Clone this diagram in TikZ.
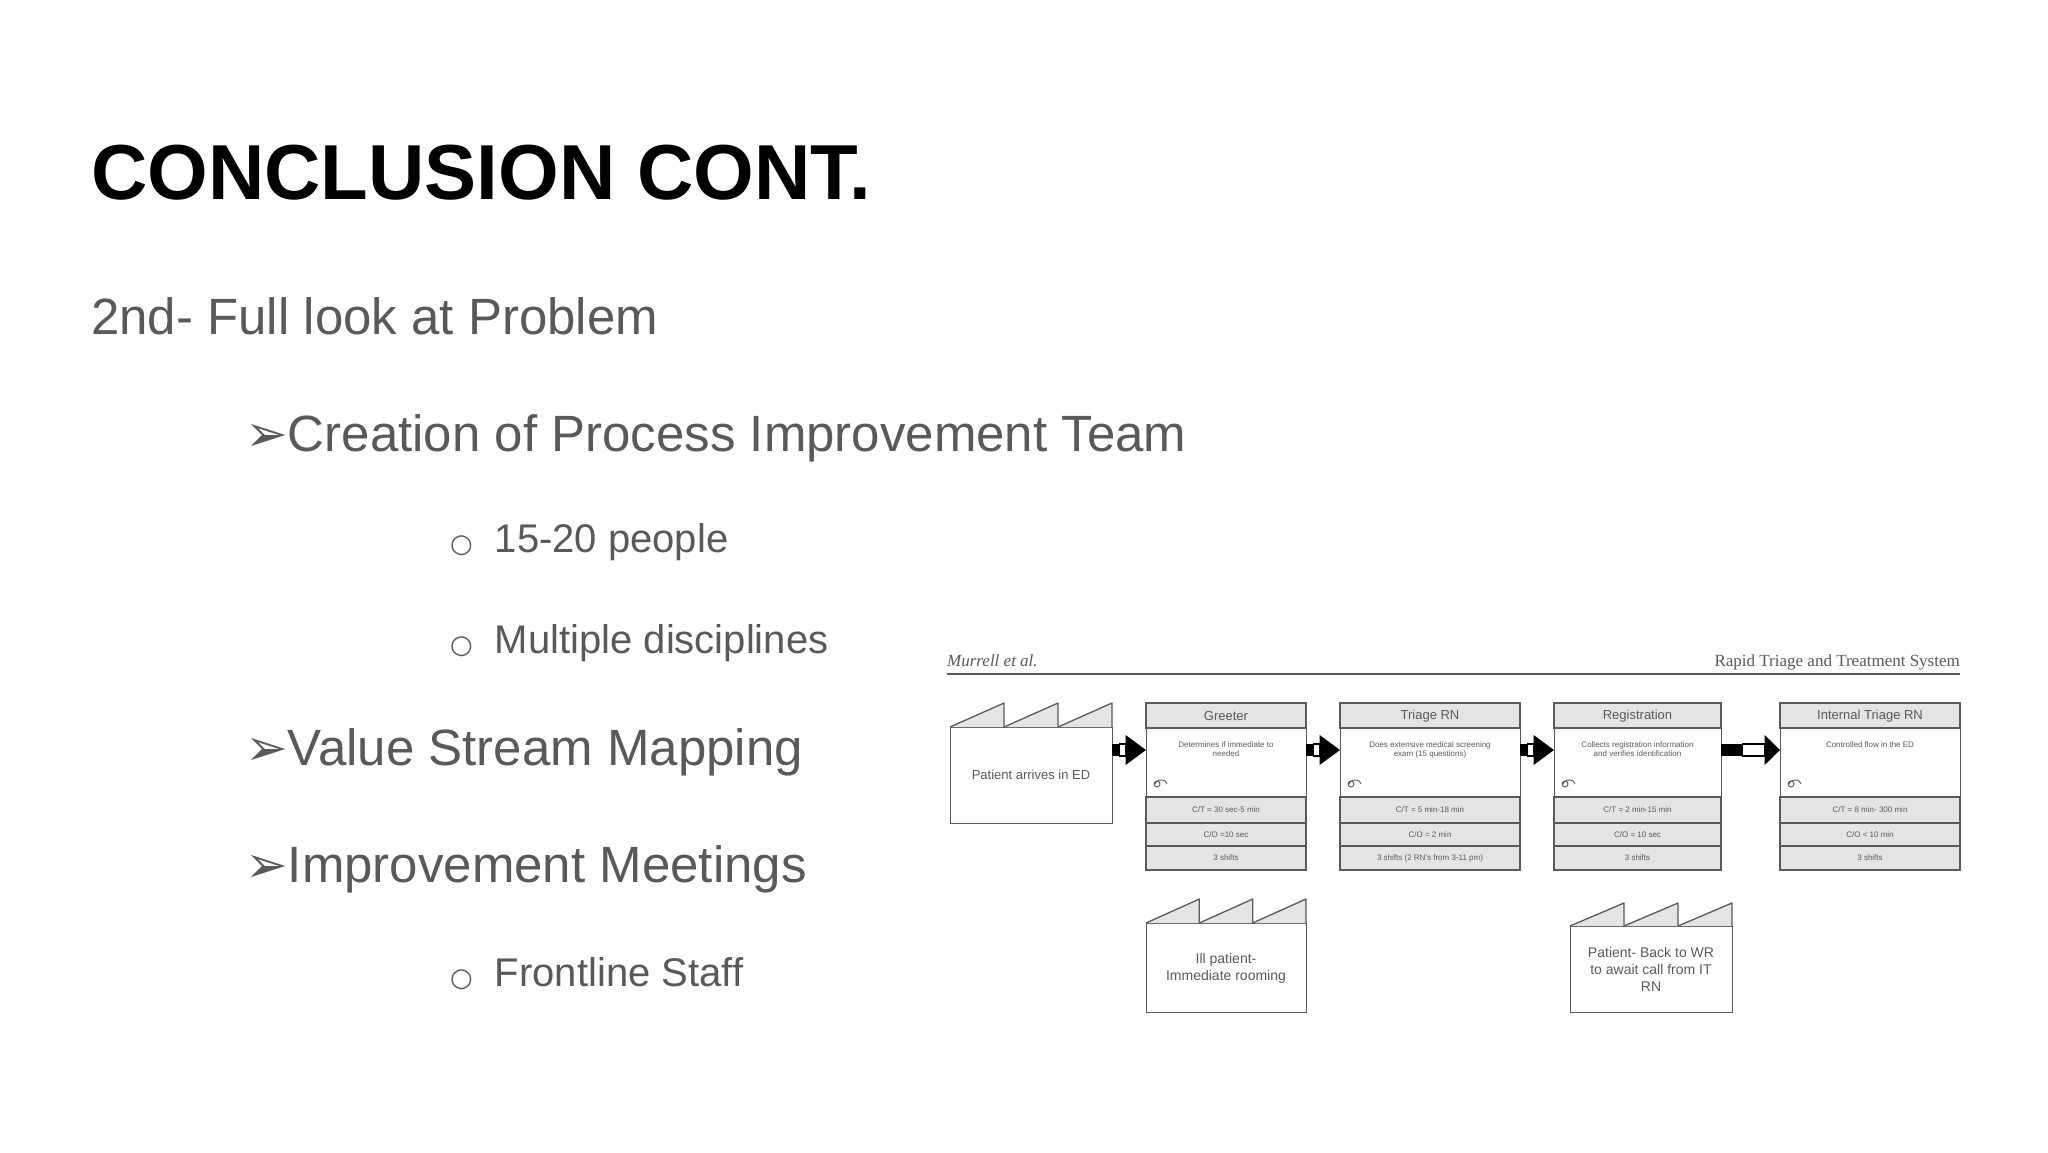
\documentclass[tikz,border=0pt]{standalone}
\usepackage{fontspec}
\setmainfont{Liberation Sans}
\newfontfamily\serifhd{Liberation Serif}
\newfontfamily\dvs{DejaVu Sans}
\usetikzlibrary{calc}
\definecolor{txt}{HTML}{595959}
\definecolor{ln}{HTML}{5A5A5A}
\definecolor{fl}{HTML}{E4E4E4}
\tikzset{
 body/.style={inner sep=0pt, anchor=base west, text=txt, font=\fontsize{51}{60}\selectfont},
 sub/.style={inner sep=0pt, anchor=base west, text=txt, font=\fontsize{40}{48}\selectfont},
 tiny/.style={inner sep=0pt, font=\fontsize{8}{9.5}\selectfont, text=ln, align=center},
 hdr/.style={inner sep=0pt, font=\fontsize{13}{15}\selectfont, text=ln},
 bx/.style={draw=ln, line width=1.3pt},
}
\newcommand\procbox[8]{% name, x1, x2, header, desc, r1, r2, r3
 \node[bx, minimum width=#3-#2, minimum height=167, anchor=north west, inner sep=0pt] (#1) at (#2,703) {};
 \filldraw[bx, fill=fl] (#2,703) rectangle (#3,728);
 \filldraw[bx, fill=fl] (#2,797) rectangle (#3,870);
 \draw[bx] (#2,823) -- (#3,823) (#2,846) -- (#3,846);
 \node[hdr] (#1h) at ({(#2+#3)/2},716) {#4};
 \node[tiny, anchor=north] (#1d) at ({(#2+#3)/2},741) {#5};
 \node[tiny] (#1a) at ({(#2+#3)/2},810) {#6};
 \node[tiny] (#1b) at ({(#2+#3)/2},834.5) {#7};
 \node[tiny] (#1c) at ({(#2+#3)/2},858) {#8};
 \draw[ln, line width=0.9pt] ({#2+9},784) arc[start angle=180, end angle=360, x radius=6, y radius=4] ({#2+11},784) circle[radius=3];
}
\newcommand\factory[6]{% name, x1, x2, peak y, top y, bottom y
 \node[bx, minimum width=#3-#2, minimum height=#6-#5, anchor=north west, inner sep=0pt] (#1) at (#2,#5) {};
 \filldraw[bx, fill=fl, line join=round] (#2,#5)
  -- ({#2+(#3-#2)/3},#4) -- ({#2+(#3-#2)/3},#5)
  -- ({#2+2*(#3-#2)/3},#4) -- ({#2+2*(#3-#2)/3},#5)
  -- (#3,#4) -- (#3,#5);
}
\newcommand\pusharr[4]{% start coord, end coord, frac black, frac white
 \fill[black] ($(#1)+(0,-6)$) rectangle ($($(#1)!#3!(#2)$)+(0,6)$);
 \draw[black, line width=1.2pt, fill=white] ($($(#1)!#3!(#2)$)+(0,-6)$) rectangle ($($(#1)!#4!(#2)$)+(0,6)$);
 \fill[black] ($($(#1)!#4!(#2)$)+(0,-15)$) -- (#2) -- ($($(#1)!#4!(#2)$)+(0,15)$) -- cycle;
}
\begin{document}
\begin{tikzpicture}[x=1pt,y=-1pt]
\useasboundingbox[fill=white] (0,0) rectangle (2048,1152);
\node[inner sep=0pt, anchor=base west, font=\fontsize{78}{90}\selectfont\bfseries] (title) at (91,199) {CONCLUSION CONT.};
\node[body] (l1) at (91,334) {2nd- Full look at Problem};
\node[body] (l2) at (245,451) {{\dvs ➢}Creation of Process Improvement Team};
\node[sub] (l3) at (450,552) {{\dvs\fontsize{26}{30}\selectfont ○}\hspace{22pt}15-20 people};
\node[sub] (l4) at (450,653) {{\dvs\fontsize{26}{30}\selectfont ○}\hspace{22pt}Multiple disciplines};
\node[body] (l5) at (245,765) {{\dvs ➢}Value Stream Mapping};
\node[body] (l6) at (245,882) {{\dvs ➢}Improvement Meetings};
\node[sub] (l7) at (450,986) {{\dvs\fontsize{26}{30}\selectfont ○}\hspace{22pt}Frontline Staff};
% diagram
\node[inner sep=0pt, anchor=base west, font=\serifhd\itshape\fontsize{17}{20}\selectfont, text=ln] (mur) at (947,666) {Murrell et al.};
\node[inner sep=0pt, anchor=base east, font=\serifhd\fontsize{17}{20}\selectfont, text=ln] (rts) at (1960,666) {Rapid Triage and Treatment System};
\draw[ln, line width=2pt] (mur.base west |- 0,674) coordinate (ruleL) -- (rts.base east |- 0,674) coordinate (ruleR);
\factory{f1}{950}{1112}{703}{727}{823}
\node[font=\fontsize{13}{15}\selectfont, text=ln] (f1t) at (1031,775) {Patient arrives in ED};
\procbox{g}{1146}{1306}{Greeter}{Determines if immediate to\\needed}{C/T = 30 sec-5 min}{C/O =10 sec}{3 shifts}
\procbox{t}{1340}{1520}{Triage RN}{Does extensive medical screening\\exam (15 questions)}{C/T = 5 min-18 min}{C/O = 2 min}{3 shifts (2 RN's from 3-11 pm)}
\procbox{r}{1554}{1721}{Registration}{Collects registration information\\and verifies identification}{C/T = 2 min-15 min}{C/O = 10 sec}{3 shifts}
\procbox{i}{1780}{1960}{Internal Triage RN}{Controlled flow in the ED}{C/T = 8 min- 300 min}{C/O < 10 min}{3 shifts}
\factory{f2}{1146}{1306}{899}{923}{1012}
\node[font=\fontsize{14}{17}\selectfont, text=ln, align=center] (f2t) at (1226,968) {Ill patient-\\Immediate rooming};
\factory{f3}{1570}{1732}{903}{926}{1012}
\node[font=\fontsize{14}{17}\selectfont, text=ln, align=center] (f3t) at (1651,969) {Patient- Back to WR\\to await call from IT\\RN};
\coordinate (a1s) at (1112,750); \coordinate (a1e) at (1146,750);
\coordinate (a2s) at (1306,750); \coordinate (a2e) at (1340,750);
\coordinate (a3s) at (1520,750); \coordinate (a3e) at (1554,750);
\coordinate (a4s) at (1721,750); \coordinate (a4e) at (1780,750);
\pusharr{a1s}{a1e}{0.22}{0.4}
\pusharr{a2s}{a2e}{0.22}{0.4}
\pusharr{a3s}{a3e}{0.22}{0.4}
\pusharr{a4s}{a4e}{0.37}{0.74}
\end{tikzpicture}
\end{document}
